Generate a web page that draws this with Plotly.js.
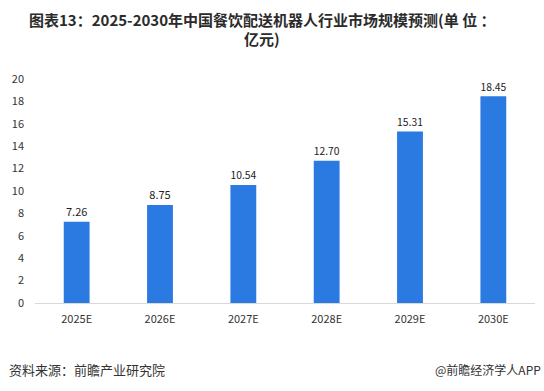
<!DOCTYPE html>
<html>
<head>
<meta charset="utf-8">
<script src="https://cdn.plot.ly/plotly-3.0.1.min.js"></script>
<style>html,body{margin:0;padding:0;background:#fff;}#chart{width:544px;height:391px;}</style>
</head>
<body>
<div id="chart"></div>
<script>
const categories = ['2025E','2026E','2027E','2028E','2029E','2030E'];
const values = [7.26, 8.75, 10.54, 12.70, 15.31, 18.45];
const valueLabels = ['7.26','8.75','10.54','12.70','15.31','18.45'];
const yTicks = [0,2,4,6,8,10,12,14,16,18,20];

const trace = {
  type: 'bar',
  x: categories,
  y: values,
  text: valueLabels,
  textposition: 'outside',
  cliponaxis: false,
  textfont: {family: 'Noto Sans CJK SC, sans-serif', size: 11, color: '#222'},
  marker: {color: '#2a7ae2'},
  hoverinfo: 'none'
};

const H = 391 - 79 - 88;
const W = 500;
const layout = {
  width: 544, height: 391,
  margin: {l: 35, r: 9, t: 79, b: 88},
  paper_bgcolor: '#fff', plot_bgcolor: '#fff',
  bargap: 0.69,
  showlegend: false,
  font: {family: 'Noto Sans CJK SC, sans-serif', size: 11, color: '#333'},
  xaxis: {
    type: 'category',
    showgrid: false, zeroline: false,
    showline: true, linecolor: '#d9d9d9', linewidth: 1,
    ticks: '', ticklabelstandoff: 6,
    tickfont: {size: 11, color: '#333'}
  },
  yaxis: {
    range: [0, 20], tickvals: yTicks,
    showgrid: false, zeroline: false, showline: false,
    ticks: '', ticklabelstandoff: 10,
    tickfont: {size: 11, color: '#333'}
  },
  annotations: [
    {text: '<b>图表13：2025-2030年中国餐饮配送机器人行业市场规模预测(单 位 ：</b>', xref: 'paper', yref: 'paper',
     x: (262-35)/W, y: (391-88-19)/H, xanchor: 'center', yanchor: 'middle', showarrow: false,
     font: {family: 'Noto Sans CJK SC, sans-serif', size: 15, color: '#2b2b2b'}},
    {text: '<b>亿元)</b>', xref: 'paper', yref: 'paper',
     x: (262-35)/W, y: (391-88-38)/H, xanchor: 'center', yanchor: 'middle', showarrow: false,
     font: {family: 'Noto Sans CJK SC, sans-serif', size: 15, color: '#2b2b2b'}},
    {text: '资料来源：前瞻产业研究院', xref: 'paper', yref: 'paper',
     x: (7-35)/W, y: (391-88-369)/H, xanchor: 'left', yanchor: 'middle', showarrow: false,
     font: {family: 'Noto Sans CJK SC, sans-serif', size: 13, color: '#333'}},
    {text: '@前瞻经济学人APP', xref: 'paper', yref: 'paper',
     x: (543-35)/W, y: (391-88-369)/H, xanchor: 'right', yanchor: 'middle', showarrow: false,
     font: {family: 'Noto Sans CJK SC, sans-serif', size: 12, color: '#333'}}
  ]
};

Plotly.newPlot('chart', [trace], layout, {staticPlot: true, displayModeBar: false});
</script>
</body>
</html>
